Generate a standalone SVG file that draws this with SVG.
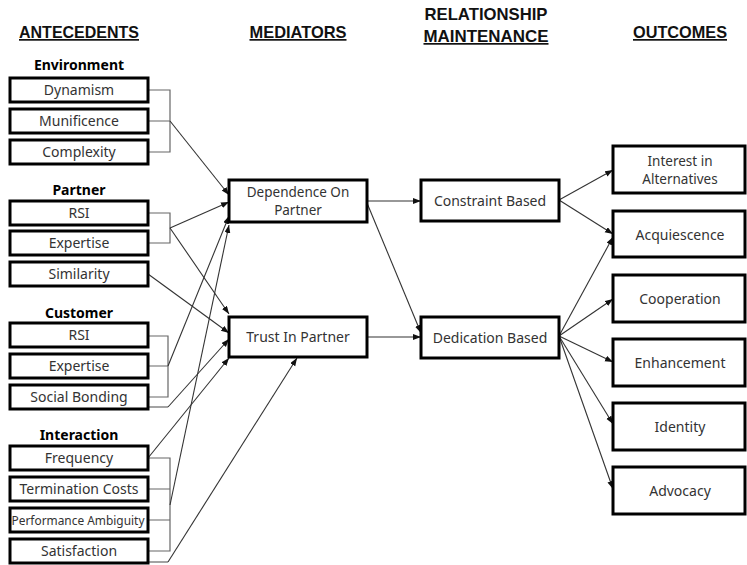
<svg xmlns="http://www.w3.org/2000/svg" width="747" height="565" viewBox="0 0 747 565">
<defs>
<marker id="arr" markerUnits="userSpaceOnUse" markerWidth="9" markerHeight="7" refX="8" refY="3" orient="auto">
<path d="M0,0 L8,3 L0,6 z" fill="#111"/>
</marker>
<style>
.box{fill:#fff;stroke:#000;stroke-width:3}
.lbl{font-family:"Noto Sans","Open Sans",sans-serif;font-size:14px;fill:#333;text-anchor:middle}
.grp{font-family:"Noto Sans","Open Sans",sans-serif;font-size:14px;font-weight:bold;fill:#000;text-anchor:middle}
.hdr{font-family:"Liberation Sans",Arial,sans-serif;font-size:17px;font-weight:bold;fill:#111;text-anchor:middle}
.br{fill:none;stroke:#666;stroke-width:1.2}
.con{fill:none;stroke:#333;stroke-width:1.1;marker-end:url(#arr)}
</style>
</defs>
<rect width="747" height="565" fill="#fff"/>

<g id="headers">
<text class="hdr" x="79" y="38" textLength="120" lengthAdjust="spacingAndGlyphs" text-decoration="underline">ANTECEDENTS</text>
<text class="hdr" x="298" y="38" textLength="97" lengthAdjust="spacingAndGlyphs" text-decoration="underline">MEDIATORS</text>
<text class="hdr" x="486" y="20" textLength="123" lengthAdjust="spacingAndGlyphs">RELATIONSHIP</text>
<text class="hdr" x="486" y="42" textLength="125" lengthAdjust="spacingAndGlyphs" text-decoration="underline">MAINTENANCE</text>
<text class="hdr" x="680" y="38" textLength="94" lengthAdjust="spacingAndGlyphs" text-decoration="underline">OUTCOMES</text>
</g>

<g id="group-labels">
<text class="grp" x="79" y="70">Environment</text>
<text class="grp" x="79" y="195">Partner</text>
<text class="grp" x="79" y="318">Customer</text>
<text class="grp" x="79" y="440">Interaction</text>
</g>

<g id="connectors">
<path class="br" d="M148,90 H170 V152 H148 M148,121 H170"/>
<line class="con" x1="170" y1="121" x2="229" y2="195"/>
<path class="br" d="M148,213 H170 V243 H148"/>
<line class="con" x1="170" y1="228" x2="229" y2="202"/>
<line class="con" x1="170" y1="228" x2="229" y2="314"/>
<line class="con" x1="148" y1="274" x2="229" y2="333"/>
<path class="br" d="M148,336 H168 V397 H148 M148,366 H168"/>
<line class="con" x1="168" y1="366" x2="229" y2="216"/>
<path class="br" d="M148,407 H168"/>
<line class="con" x1="168" y1="407" x2="229" y2="339"/>
<path class="br" d="M148,458 H170 V551 H148 M148,489 H170 M148,520 H170"/>
<line class="con" x1="170" y1="505" x2="229" y2="225"/>
<line class="con" x1="148" y1="458" x2="229" y2="358"/>
<path class="br" d="M148,562 H168"/>
<line class="con" x1="168" y1="562" x2="297" y2="358"/>
<line class="con" x1="367" y1="201" x2="421" y2="201"/>
<line class="con" x1="367" y1="203" x2="421" y2="333"/>
<line class="con" x1="367" y1="337" x2="421" y2="337"/>
<line class="con" x1="559" y1="200" x2="613" y2="170"/>
<line class="con" x1="559" y1="200" x2="613" y2="234"/>
<line class="con" x1="559" y1="336" x2="613" y2="237"/>
<line class="con" x1="559" y1="336" x2="613" y2="299"/>
<line class="con" x1="559" y1="336" x2="613" y2="362"/>
<line class="con" x1="559" y1="336" x2="613" y2="424"/>
<line class="con" x1="559" y1="336" x2="613" y2="489"/>
</g>

<g id="dynamism"><rect class="box" x="10" y="78" width="138" height="24"/><text class="lbl" x="79" y="95">Dynamism</text></g>
<g id="munificence"><rect class="box" x="10" y="109" width="138" height="24"/><text class="lbl" x="79" y="126">Munificence</text></g>
<g id="complexity"><rect class="box" x="10" y="140" width="138" height="24"/><text class="lbl" x="79" y="157">Complexity</text></g>

<g id="partner-rsi"><rect class="box" x="10" y="201" width="138" height="24"/><text class="lbl" x="79" y="218">RSI</text></g>
<g id="partner-expertise"><rect class="box" x="10" y="231" width="138" height="24"/><text class="lbl" x="79" y="248">Expertise</text></g>
<g id="similarity"><rect class="box" x="10" y="262" width="138" height="24"/><text class="lbl" x="79" y="279">Similarity</text></g>

<g id="customer-rsi"><rect class="box" x="10" y="323" width="138" height="24"/><text class="lbl" x="79" y="340">RSI</text></g>
<g id="customer-expertise"><rect class="box" x="10" y="354" width="138" height="24"/><text class="lbl" x="79" y="371">Expertise</text></g>
<g id="social-bonding"><rect class="box" x="10" y="385" width="138" height="24"/><text class="lbl" x="79" y="402">Social Bonding</text></g>

<g id="frequency"><rect class="box" x="10" y="446" width="138" height="24"/><text class="lbl" x="79" y="463">Frequency</text></g>
<g id="termination-costs"><rect class="box" x="10" y="477" width="138" height="24"/><text class="lbl" x="79" y="494">Termination Costs</text></g>
<g id="performance-ambiguity"><rect class="box" x="10" y="508" width="138" height="24"/><text class="lbl" x="78" y="524.5" style="font-size:12px" textLength="133" lengthAdjust="spacingAndGlyphs">Performance Ambiguity</text></g>
<g id="satisfaction"><rect class="box" x="10" y="539" width="138" height="24"/><text class="lbl" x="79" y="556">Satisfaction</text></g>

<g id="dependence"><rect class="box" x="229" y="180" width="138" height="42"/><text class="lbl" x="298" y="197" style="font-size:13.5px">Dependence On</text><text class="lbl" x="298" y="215" style="font-size:13.5px">Partner</text></g>
<g id="trust"><rect class="box" x="229" y="317" width="138" height="40"/><text class="lbl" x="298" y="342">Trust In Partner</text></g>

<g id="constraint"><rect class="box" x="421" y="180" width="138" height="41"/><text class="lbl" x="490" y="206">Constraint Based</text></g>
<g id="dedication"><rect class="box" x="421" y="317" width="138" height="41"/><text class="lbl" x="490" y="343">Dedication Based</text></g>

<g id="interest"><rect class="box" x="613" y="146" width="132" height="47"/><text class="lbl" x="680" y="166" style="font-size:13.5px">Interest in</text><text class="lbl" x="680" y="184" style="font-size:13.5px">Alternatives</text></g>
<g id="acquiescence"><rect class="box" x="613" y="211" width="132" height="46"/><text class="lbl" x="680" y="240">Acquiescence</text></g>
<g id="cooperation"><rect class="box" x="613" y="275" width="132" height="47"/><text class="lbl" x="680" y="304">Cooperation</text></g>
<g id="enhancement"><rect class="box" x="613" y="339" width="132" height="47"/><text class="lbl" x="680" y="368">Enhancement</text></g>
<g id="identity"><rect class="box" x="613" y="403" width="132" height="47"/><text class="lbl" x="680" y="432">Identity</text></g>
<g id="advocacy"><rect class="box" x="613" y="467" width="132" height="47"/><text class="lbl" x="680" y="496">Advocacy</text></g>
</svg>
